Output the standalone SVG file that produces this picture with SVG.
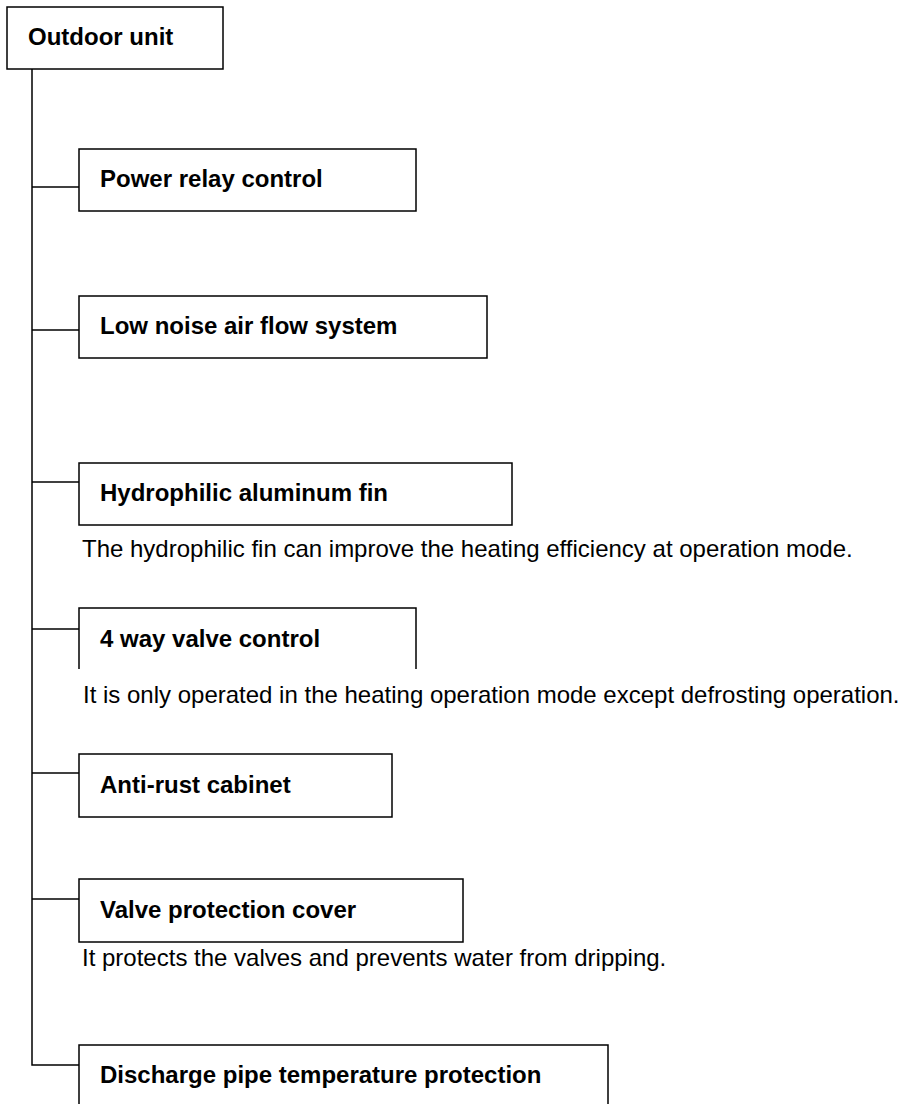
<svg xmlns="http://www.w3.org/2000/svg" width="899" height="1104" viewBox="0 0 899 1104">
<style>
.box{fill:#fff;stroke:#000;stroke-width:1.5}
.open{fill:none;stroke:#000;stroke-width:1.5}
.ln{fill:none;stroke:#000;stroke-width:1.5}
.t{font-family:"Liberation Sans",Arial,sans-serif;font-size:24px;font-weight:bold;fill:#000}
.d{font-family:"Liberation Sans",Arial,sans-serif;font-size:24px;fill:#000}
</style>
<rect width="899" height="1104" fill="#fff"/>
<g id="connectors">
<path class="ln" d="M32 69 V1065 H79"/>
<path class="ln" d="M32 187 H79"/>
<path class="ln" d="M32 330 H79"/>
<path class="ln" d="M32 482 H79"/>
<path class="ln" d="M32 629 H79"/>
<path class="ln" d="M32 773 H79"/>
<path class="ln" d="M32 899 H79"/>
</g>
<g id="outdoor-unit">
<rect class="box" x="7" y="7" width="216" height="62"/>
<text class="t" x="28" y="45">Outdoor unit</text>
</g>
<g id="power-relay">
<rect class="box" x="79" y="149" width="337" height="62"/>
<text class="t" x="100" y="187">Power relay control</text>
</g>
<g id="low-noise">
<rect class="box" x="79" y="296" width="408" height="62"/>
<text class="t" x="100" y="334">Low noise air flow system</text>
</g>
<g id="hydrophilic">
<rect class="box" x="79" y="463" width="433" height="62"/>
<text class="t" x="100" y="501">Hydrophilic aluminum fin</text>
<text class="d" x="82" y="557">The hydrophilic fin can improve the heating efficiency at operation mode.</text>
</g>
<g id="four-way">
<path class="open" d="M79 669 V608 H416 V669"/>
<text class="t" x="100" y="647">4 way valve control</text>
<text class="d" x="83" y="703">It is only operated in the heating operation mode except defrosting operation.</text>
</g>
<g id="anti-rust">
<rect class="box" x="79" y="754" width="313" height="63"/>
<text class="t" x="100" y="793">Anti-rust cabinet</text>
</g>
<g id="valve-cover">
<rect class="box" x="79" y="879" width="384" height="63"/>
<text class="t" x="100" y="918">Valve protection cover</text>
<text class="d" x="82" y="966">It protects the valves and prevents water from dripping.</text>
</g>
<g id="discharge">
<path class="open" d="M79 1110 V1045 H608 V1110"/>
<text class="t" x="100" y="1083">Discharge pipe temperature protection</text>
</g>
</svg>
